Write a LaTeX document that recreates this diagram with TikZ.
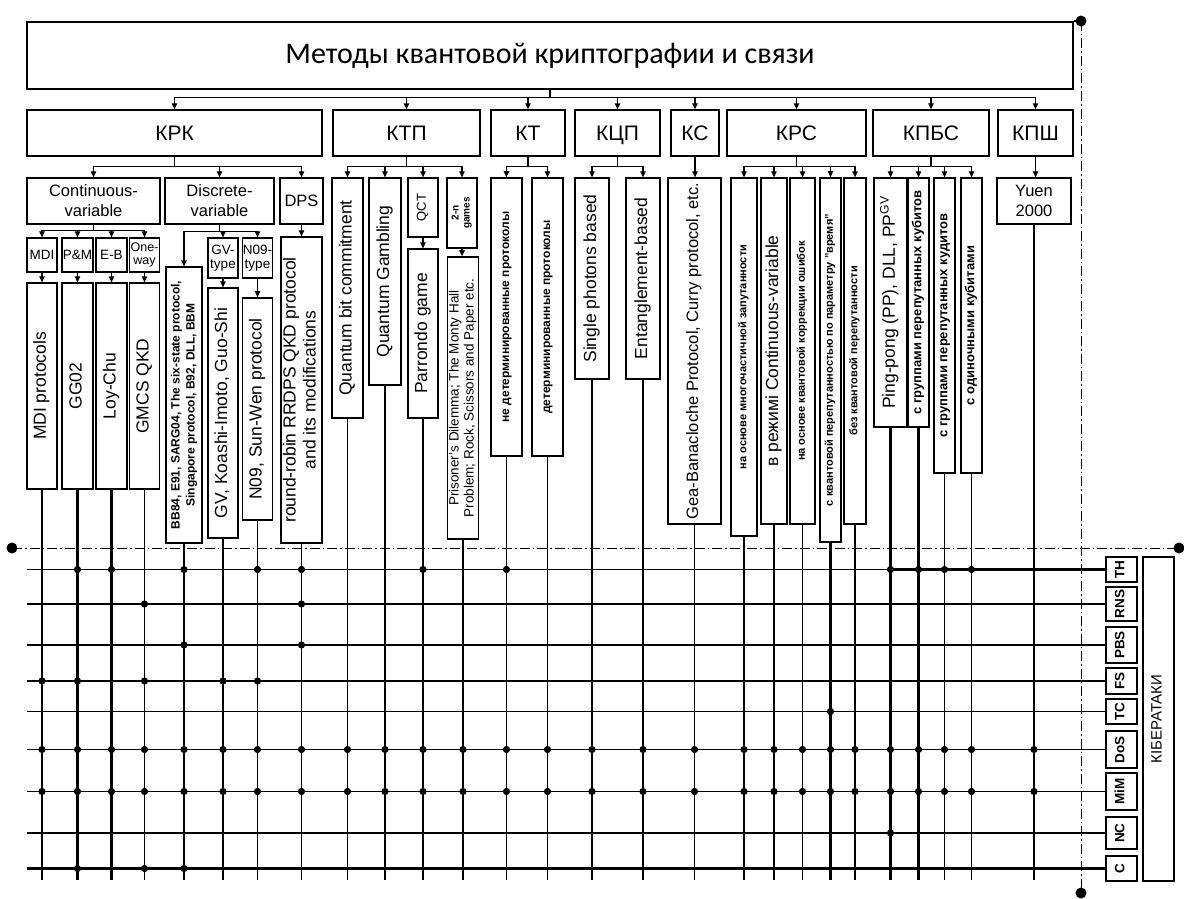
\documentclass[tikz,border=0pt]{standalone}
\usepackage{fontspec}
\setmainfont{Liberation Sans}
\newfontfamily\titlefont{Carlito}
\usepackage{graphicx}
\usepackage{tikz}
\usetikzlibrary{arrows.meta,calc}
\newcommand{\setfs}[2]{\fontsize{#1}{#2}\selectfont}
\newcommand{\vt}[1]{\rotatebox{90}{\begin{tabular}{@{}c@{}}#1\end{tabular}}}

\begin{document}
\begin{tikzpicture}[x=1pt, y=-1pt,
  box/.style={draw, line width=1.3pt, inner sep=0pt, align=center},
  sz/.style 2 args={minimum width=#1, minimum height=#2},
  lvl/.style={box, line width=1.4pt, minimum height=46, text height=15, text depth=0,
    font={\setfs{21}{23}}},
  cat/.style={box, font={\setfs{16.5}{20}}},
  sub/.style={box, font={\setfs{13.5}{14}}},
  leaf/.style={box, font={\setfs{17.5}{20}}},
  small/.style={box, font={\bfseries\setfs{11}{12}}},
  smaller/.style={box, font={\bfseries\setfs{13}{14}}},
  att/.style={box, minimum width=31, font={\bfseries\setfs{13.5}{14}}},
  arr/.style={line width=1.1pt, -{Triangle[length=6pt,width=5.5pt]}},
  stem/.style={line width=1.2pt},
  fat/.style={line width=2.6pt},
  dashdot/.style={line width=1pt, dash pattern=on 10pt off 3pt on 1.5pt off 3pt}]
\useasboundingbox (0,0) rectangle (1184,899);

% title and first level
\node[box, line width=1.7pt, sz={1046}{67}, font={\titlefont\setfs{30}{32}}] (title) at (550,55.5)
  {Методы квантовой криптографии и связи};
\node[lvl, minimum width=295] (krk) at (174.5,133) {КРК};
\node[lvl, minimum width=147] (ktp) at (406.5,133) {КТП};
\node[lvl, minimum width=74] (kt) at (528,133) {КТ};
\node[lvl, minimum width=85] (kcp) at (617.5,133) {КЦП};
\node[lvl, minimum width=48] (ks) at (695,133) {КС};
\node[lvl, minimum width=139] (krs) at (796.5,133) {КРС};
\node[lvl, minimum width=116] (kpbs) at (931,133) {КПБС};
\node[lvl, minimum width=75] (kpsh) at (1035.5,133) {КПШ};

% second level
\node[cat, sz={133}{46}] (cv) at (93.5,201) {Continuous-\\variable};
\node[cat, sz={109}{46}] (dv) at (219.5,201) {Discrete-\\variable};
\node[cat, sz={43}{46}] (dps) at (301.5,201) {DPS};
\node[cat, sz={74}{46}] (yuen) at (1034,201) {Yuen\\2000};
\node[box, sz={30}{59}, font={\setfs{13}{14}}] (qct) at (423,207.5) {\vt{QCT}};
\node[box, sz={30}{70}, font={\bfseries\setfs{10}{11}}] (games) at (462,213) {\vt{2-n\\games}};
\node[sub, sz={30}{34}] (mdi) at (42,255) {MDI};
\node[sub, sz={31}{34}] (pm) at (77.5,255) {P\&M};
\node[sub, sz={31}{34}] (eb) at (111.5,255) {E-B};
\node[sub, sz={30}{34}, font={\setfs{12.5}{12.5}}] (oneway) at (144.5,255) {One-\\way};
\node[sub, sz={30}{40}] (gvt) at (223,258) {GV-\\type};
\node[sub, sz={30}{40}] (n09t) at (257.5,258) {N09-\\type};

% leaves
\node[leaf, sz={30}{206}] (mdip) at (42,386) {\vt{MDI protocols}};
\node[leaf, sz={31}{206}] (ggo) at (77.5,386) {\vt{GG02}};
\node[leaf, sz={31}{206}] (loychu) at (111.5,386) {\vt{Loy-Chu}};
\node[leaf, sz={30}{206}] (gmcs) at (144.5,386) {\vt{GMCS QKD}};
\node[box, sz={36}{276}, font={\bfseries\setfs{12}{15}}] (bb) at (184,405)
  {\vt{BB84, E91, SARG04, The six-state protocol,\\Singapore protocol, B92, DLL, BBM}};
\node[leaf, sz={30}{250}] (gvk) at (223,413) {\vt{GV, Koashi-Imoto, Guo-Shi}};
\node[leaf, line width=1.8pt, sz={30}{222}] (nsw) at (257.5,409) {\vt{N09, Sun-Wen protocol}};
\node[leaf, sz={41}{306}] (rr) at (301.5,390)
  {\vt{round-robin RRDPS QKD protocol\\and its modifications}};
\node[leaf, sz={31}{240}] (qbc) at (347.5,298) {\vt{Quantum bit commitment}};
\node[leaf, sz={32}{207}] (qg) at (385,281.5) {\vt{Quantum Gambling}};
\node[leaf, sz={30}{169}] (par) at (423,333.5) {\vt{Parrondo game}};
\node[box, line width=1.6pt, sz={31}{282}, font={\setfs{13.5}{15}}] (pd) at (463,398)
  {\vt{Prisoner's Dilemma; The Monty Hall\\Problem; Rock, Scissors and Paper etc.}};
\node[box, line width=1.6pt, sz={31}{278}, font={\bfseries\setfs{12}{13}}] (ndet) at (506.5,317)
  {\vt{не детерминированные протоколы}};
\node[box, sz={31}{278}, font={\bfseries\setfs{12}{13}}] (det) at (547.5,317)
  {\vt{детерминированные протоколы}};
\node[leaf, sz={34}{201}] (sph) at (592,278.5) {\vt{Single photons based}};
\node[leaf, sz={34}{201}] (ent) at (643,278.5) {\vt{Entanglement-based}};
\node[box, sz={53}{346}, font={\setfs{16.5}{18}}] (gea) at (694.5,351)
  {\vt{Gea-Banacloche Protocol, Curry protocol, etc.}};
\node[small, sz={26}{358}] (mnz) at (744,357) {\vt{на основе многочастичной запутанности}};
\node[leaf, sz={26}{346}] (cvr) at (774,351) {\vt{в режимі Continuous-variable}};
\node[small, sz={25}{346}] (qec) at (802.5,351) {\vt{на основе квантовой коррекции ошибок}};
\node[small, line width=1.8pt, sz={21}{364}] (tim) at (830.5,360)
  {\vt{с квантовой перепутанностью по параметру "время"}};
\node[small, sz={22}{346}] (noent) at (855,351) {\vt{без квантовой перепутанности}};
\node[leaf, sz={33}{249}] (pp) at (890.5,302.5) {\vt{Ping-pong (PP), DLL, PP\textsuperscript{GV}}};
\node[smaller, sz={21}{249}] (qub) at (918.5,302.5) {\vt{с группами перепутанных кубитов}};
\node[smaller, sz={21}{295}] (qud) at (944.5,325.5) {\vt{с группами перепутанных кудитов}};
\node[smaller, sz={21}{295}] (single) at (971.5,325.5) {\vt{с одиночными кубитами}};

% attacks
\node[att, minimum height=25] (th) at (1121.5,569.5) {\vt{TH}};
\node[att, minimum height=34] (rns) at (1121.5,604) {\vt{RNS}};
\node[att, minimum height=36] (pbs) at (1121.5,645) {\vt{PBS}};
\node[att, minimum height=26] (fs) at (1121.5,681) {\vt{FS}};
\node[att, minimum height=25] (tc) at (1121.5,711.5) {\vt{TC}};
\node[att, minimum height=37] (dos) at (1121.5,749.5) {\vt{DoS}};
\node[att, minimum height=37] (mim) at (1121.5,791.5) {\vt{MiM}};
\node[att, minimum height=32] (nc) at (1121.5,833) {\vt{NC}};
\node[att, minimum height=25] (c) at (1121.5,868.5) {\vt{C}};
\node[box, sz={31}{324}, font={\setfs{15}{16}}] (kiber) at (1158.5,719) {\vt{КІБЕРАТАКИ}};

% tree connectors
\foreach \n in {krk,ktp,kt,kcp,ks,krs,kpbs,kpsh}
  \draw[arr] (title.south) -- ++(0,8) -| (\n.north);
\foreach \n in {cv,dv,dps}
  \draw[arr] (krk.south) -- ++(0,10) -| (\n.north);
\foreach \n in {qbc,qg,qct,games}
  \draw[arr] (ktp.south) -- ++(0,10) -| (\n.north);
\foreach \n in {ndet,det}
  \draw[arr] (kt.south) -- ++(0,10) -| (\n.north);
\foreach \n in {sph,ent}
  \draw[arr] (kcp.south) -- ++(0,10) -| (\n.north);
\foreach \n in {mnz,cvr,qec,tim,noent}
  \draw[arr] (krs.south) -- ++(0,10) -| (\n.north);
\foreach \n in {pp,qub,qud,single}
  \draw[arr] (kpbs.south) -- ++(0,10) -| (\n.north);
\foreach \n in {mdi,pm,eb,oneway}
  \draw[arr] (cv.south) -- ++(0,6) -| (\n.north);
\foreach \n in {bb,gvt,n09t}
  \draw[arr] (dv.south) -- ++(0,7) -| (\n.north);
\foreach \a/\b in {ks/gea,kpsh/yuen,mdi/mdip,pm/ggo,eb/loychu,oneway/gmcs,gvt/gvk,n09t/nsw,qct/par,games/pd,dps/rr}
  \draw[arr] (\a.south) -- (\a.south |- \b.north);

% grid of methods and attacks
\coordinate (gbot) at (0,880);
\coordinate (gleft) at (27,0);
\foreach \l in {mdip,gmcs,bb,gvk,nsw,rr,qbc,par,pd,ndet,det,sph,ent,gea,mnz,cvr,qec,qud,single,yuen}
  \draw[stem] (\l.south) -- (\l.south |- gbot);
\foreach \l in {ggo,loychu,qg,tim,noent,pp,qub}
  \draw[fat] (\l.south) -- (\l.south |- gbot);
\foreach \a in {th,rns,pbs,fs,tc,dos,mim,nc,c}
  \draw[stem] (gleft |- \a.west) -- (\a.west);
\draw[fat] (gleft |- c.west) -- (c.west);
\draw[fat] (bb.south |- rns.west) -- (rns.west);
\draw[fat] (pp.south |- th.west) -- (th.west);

\foreach \a/\l in {th/ggo,th/loychu,th/bb,th/nsw,th/rr,th/par,th/ndet,th/pp,th/qub,th/qud,th/single,
    rns/gmcs,rns/rr,pbs/bb,pbs/rr,fs/mdip,fs/ggo,fs/gmcs,fs/gvk,fs/nsw,
    tc/tim,nc/pp,c/ggo,c/gmcs,c/bb}
  \fill (\l.south |- \a.west) circle (3.6pt);
\foreach \a in {dos,mim}
  \foreach \l in {mdip,ggo,loychu,gmcs,bb,gvk,nsw,rr,qbc,qg,par,pd,ndet,det,sph,ent,gea,
      mnz,cvr,qec,tim,noent,pp,qub,qud,single,yuen}
    \fill (\l.south |- \a.west) circle (3.6pt);

% dash-dot borders
\coordinate (ltip) at (12,548);
\coordinate (rtip) at (1179,548);
\coordinate (ttip) at (1081,21);
\coordinate (btip) at (1081,893);
\draw[dashdot] (ltip) -- (rtip);
\draw[dashdot] (ttip) -- (btip);
\draw[line width=1.7pt] (title.north east) -- (title.north east -| ttip);
\foreach \p in {ltip,rtip,ttip,btip}
  \fill (\p) circle (5.5pt);
\end{tikzpicture}
\end{document}
